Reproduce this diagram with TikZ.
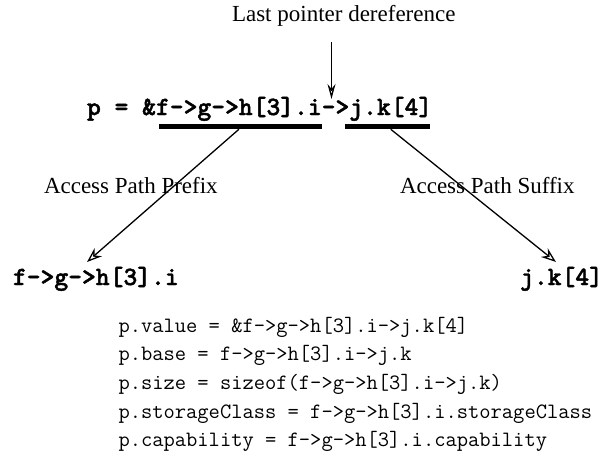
\documentclass[tikz,border=0pt]{standalone}
\usepackage{fontspec}
\setmainfont{Liberation Serif}
\newfontfamily\bmono{lmmonolt10-bold.otf}[FakeBold=1.6]
\usetikzlibrary{arrows.meta,calc}
\begin{document}
\begin{tikzpicture}[x=1pt,y=1pt,
  bcode/.style={font=\bmono\fontsize{26.3}{30}\selectfont, inner sep=0pt, outer sep=0pt, anchor=base west},
  code/.style={font=\ttfamily\fontsize{21.9}{25}\selectfont, inner sep=0pt, outer sep=0pt, anchor=base west},
  lbl/.style={font=\fontsize{23}{27}\selectfont, inner sep=0pt, outer sep=0pt, anchor=base west},
  conn/.style={line width=1.3pt, -{Stealth[open,length=15pt,width=11pt,inset=5pt]}},
  bar/.style={line width=5pt}]
\useasboundingbox (0,0) rectangle (608,-461);
% top label
\node[lbl] (top) at (232,-21) {Last pointer dereference};
% expression
\node[bcode] (e1) at (87,-115) {p = \&};
\node[bcode] (pfx) at (e1.base east) {f->g->h[3].i};
\node[bcode] (arr) at (pfx.base east) {->};
\node[bcode] (sfx) at (arr.base east) {j.k[4]};
% bars
\draw[bar] ($(pfx.base west)+(3,-11.8)$) -- ($(pfx.base east)+(0,-11.8)$);
\draw[bar] ($(sfx.base west)+(-4,-11.8)$) -- ($(sfx.base east)+(-2,-11.8)$);
% labels
\node[lbl] (pl) at (44,-193) {Access Path Prefix};
\node[lbl] (sl) at (400,-193) {Access Path Suffix};
% results
\node[bcode] (lft) at (13,-285) {f->g->h[3].i};
\node[bcode, anchor=base east] (rgt) at (603,-285) {j.k[4]};
% connectors
\coordinate (vstart) at (331.5,-42);
\coordinate (vtip) at (331.5,-99);
\coordinate (lstart) at ($(pfx.base)+(0,-14.3)$);
\coordinate (rstart) at ($(sfx.base)+(0,-14.3)$);
\coordinate (ltip) at (87,-262);
\coordinate (rtip) at (556,-262);
\draw[conn, -{Stealth[open,length=15pt,width=8pt,inset=5pt]}] (vstart) -- (vtip);
\draw[conn] (lstart) -- (ltip);
\draw[conn] (rstart) -- (rtip);
% code lines
\node[code] (c1) at (118.5,-332) {p.value = \&f->g->h[3].i->j.k[4]};
\node[code] (c2) at (118.5,-360.7) {p.base = f->g->h[3].i->j.k};
\node[code] (c3) at (118.5,-389.4) {p.size = sizeof(f->g->h[3].i->j.k)};
\node[code] (c4) at (118.5,-418.1) {p.storageClass = f->g->h[3].i.storageClass};
\node[code] (c5) at (118.5,-446.8) {p.capability = f->g->h[3].i.capability};
\end{tikzpicture}
\end{document}
